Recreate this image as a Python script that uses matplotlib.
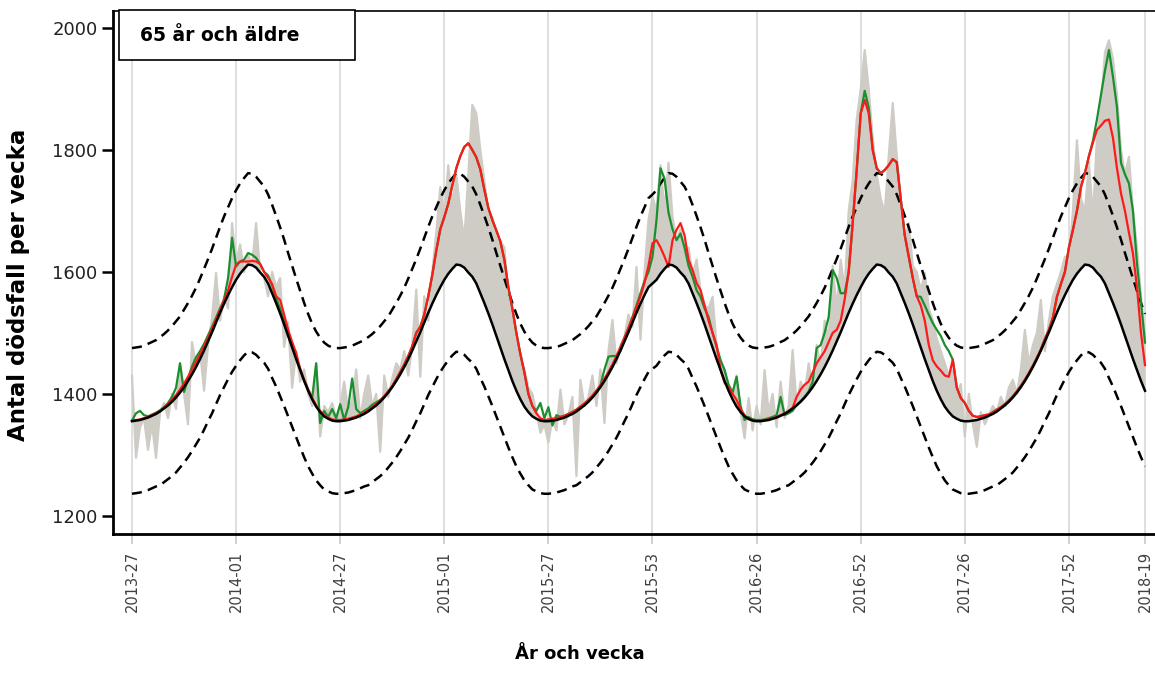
import matplotlib.pyplot as plt
from matplotlib.patches import Rectangle

# veckor: (år, första vecka, sista vecka)
periods = [(2013, 27, 52), (2014, 1, 52), (2015, 1, 53), (2016, 1, 52), (2017, 1, 52), (2018, 1, 19)]

# förväntat antal (svart) per veckonummer 1..53, samma varje år
base_by_week = [1587, 1597, 1605, 1612, 1611, 1607, 1599, 1592, 1581, 1565,
                1549, 1532, 1514, 1495, 1476, 1457, 1439, 1421, 1405, 1391,
                1379, 1370, 1363, 1359, 1356, 1355, 1355, 1356, 1357, 1359,
                1361, 1364, 1367, 1371, 1376, 1381, 1387, 1394, 1402, 1411,
                1421, 1432, 1444, 1457, 1471, 1486, 1501, 1517, 1533, 1548,
                1562, 1575, 1581]
upper_by_week = [1734, 1745, 1754, 1762, 1761, 1756, 1748, 1740, 1727, 1710,
                 1692, 1673, 1653, 1631, 1610, 1589, 1569, 1549, 1531, 1515,
                 1502, 1492, 1484, 1479, 1476, 1475, 1475, 1476, 1477, 1479,
                 1482, 1485, 1488, 1493, 1498, 1504, 1511, 1519, 1527, 1538,
                 1549, 1561, 1574, 1589, 1605, 1621, 1638, 1656, 1674, 1691,
                 1706, 1721, 1727]
lower_by_week = [1446, 1455, 1463, 1469, 1468, 1464, 1457, 1451, 1441, 1426,
                 1412, 1396, 1380, 1363, 1346, 1329, 1312, 1296, 1281, 1269,
                 1258, 1250, 1243, 1240, 1237, 1236, 1236, 1237, 1238, 1240,
                 1242, 1245, 1248, 1250, 1255, 1260, 1265, 1271, 1279, 1287,
                 1296, 1306, 1317, 1328, 1341, 1355, 1368, 1383, 1398, 1411,
                 1424, 1436, 1441]

# observerat antal (grått)
obs_2013 = [1430, 1295, 1345, 1360, 1308, 1350, 1295, 1370, 1385, 1360, 1400, 1375, 1450,
            1400, 1350, 1485, 1445, 1470, 1405, 1480, 1525, 1598, 1520, 1560, 1540, 1680]
obs_2014 = [1615, 1645, 1600, 1628, 1612, 1680, 1600, 1590, 1560, 1600, 1575, 1590, 1477,
            1517, 1410, 1470, 1420, 1440, 1400, 1380, 1450, 1330, 1380, 1370, 1385, 1360,
            1380, 1420, 1370, 1390, 1440, 1360, 1400, 1430, 1380, 1400, 1305, 1430, 1395,
            1425, 1450, 1440, 1470, 1430, 1480, 1571, 1428, 1560, 1520, 1600, 1665, 1739]
obs_2015 = [1690, 1775, 1710, 1760, 1700, 1652, 1760, 1874, 1860, 1800, 1750, 1700, 1690,
            1660, 1650, 1640, 1560, 1530, 1490, 1467, 1440, 1410, 1400, 1370, 1336, 1350,
            1320, 1360, 1340, 1407, 1350, 1365, 1395, 1265, 1423, 1380, 1395, 1430, 1380,
            1440, 1352, 1470, 1521, 1450, 1480, 1493, 1530, 1510, 1608, 1489, 1600, 1685, 1723]
obs_2016 = [1700, 1775, 1700, 1779, 1690, 1652, 1670, 1636, 1640, 1595, 1620, 1570, 1545,
            1540, 1559, 1480, 1455, 1440, 1410, 1400, 1430, 1370, 1327, 1393, 1340, 1380,
            1350, 1439, 1370, 1400, 1345, 1420, 1360, 1380, 1472, 1380, 1420, 1400, 1450,
            1410, 1480, 1445, 1520, 1490, 1610, 1540, 1620, 1570, 1700, 1750, 1850, 1900]
obs_2017 = [1964, 1900, 1820, 1760, 1720, 1697, 1790, 1877, 1790, 1720, 1650, 1680, 1610,
            1600, 1570, 1598, 1540, 1520, 1490, 1470, 1450, 1430, 1440, 1400, 1416, 1330,
            1400, 1350, 1313, 1370, 1350, 1365, 1380, 1370, 1395, 1380, 1410, 1423, 1400,
            1440, 1505, 1450, 1480, 1500, 1554, 1470, 1520, 1560, 1580, 1600, 1625, 1620]
obs_2018 = [1700, 1816, 1720, 1700, 1780, 1690, 1820, 1870, 1960, 1980, 1950, 1890, 1800,
            1760, 1789, 1700, 1640, 1560, 1489]

# grön linje
green_2013 = [1356, 1368, 1372, 1365, 1363, 1366, 1369, 1373, 1378, 1385, 1395, 1410, 1450,
              1403, 1425, 1445, 1460, 1470, 1482, 1496, 1510, 1525, 1540, 1555, 1590, 1656]
green_2014 = [1609, 1617, 1620, 1631, 1628, 1623, 1613, 1600, 1594, 1578, 1557, 1540, 1520,
              1497, 1478, 1459, 1441, 1423, 1407, 1393, 1450, 1352, 1372, 1362, 1375, 1360,
              1383, 1357, 1378, 1425, 1375, 1368, 1372, 1376, 1382, 1386, 1390, 1396, 1404,
              1412, 1424, 1436, 1448, 1462, 1478, 1500, 1510, 1530, 1560, 1595, 1635, 1670]
green_2015 = [1690, 1712, 1742, 1770, 1790, 1805, 1811, 1800, 1788, 1768, 1735, 1705, 1685,
              1668, 1650, 1620, 1575, 1540, 1500, 1465, 1435, 1400, 1380, 1372, 1385, 1360,
              1378, 1348, 1365, 1362, 1364, 1367, 1370, 1374, 1379, 1384, 1390, 1397, 1405,
              1414, 1440, 1461, 1462, 1462, 1470, 1492, 1508, 1526, 1545, 1565, 1585, 1600, 1625]
green_2016 = [1685, 1770, 1753, 1697, 1670, 1652, 1663, 1640, 1610, 1592, 1570, 1559, 1540,
              1526, 1500, 1477, 1455, 1439, 1415, 1402, 1428, 1380, 1357, 1362, 1358, 1357,
              1357, 1358, 1360, 1362, 1365, 1395, 1365, 1368, 1372, 1382, 1388, 1395, 1404,
              1420, 1475, 1480, 1500, 1526, 1603, 1590, 1565, 1565, 1600, 1680, 1767, 1860]
green_2017 = [1897, 1870, 1800, 1770, 1762, 1767, 1775, 1785, 1780, 1720, 1660, 1625, 1590,
              1560, 1559, 1545, 1530, 1516, 1505, 1495, 1480, 1470, 1456, 1410, 1393, 1385,
              1372, 1364, 1362, 1363, 1365, 1366, 1370, 1374, 1378, 1383, 1389, 1396, 1404,
              1413, 1423, 1434, 1446, 1459, 1473, 1490, 1505, 1525, 1559, 1580, 1600, 1640]
green_2018 = [1669, 1700, 1739, 1762, 1790, 1815, 1850, 1890, 1930, 1964, 1920, 1870, 1779,
              1760, 1745, 1700, 1614, 1550, 1484]

# röd linje
red_2013 = [1356, 1357, 1358, 1360, 1362, 1365, 1368, 1372, 1377, 1383, 1390, 1398, 1407,
            1417, 1428, 1440, 1452, 1465, 1478, 1492, 1507, 1522, 1538, 1553, 1570, 1592]
red_2014 = [1612, 1617, 1617, 1617, 1618, 1617, 1613, 1600, 1590, 1580, 1560, 1554, 1530,
            1505, 1485, 1467, 1441, 1423, 1407, 1393, 1381, 1372, 1365, 1361, 1358, 1357,
            1357, 1358, 1359, 1361, 1363, 1366, 1369, 1373, 1378, 1383, 1389, 1396, 1404,
            1413, 1424, 1436, 1448, 1462, 1478, 1500, 1510, 1530, 1560, 1595, 1635, 1670]
red_2015 = [1690, 1712, 1742, 1770, 1790, 1805, 1811, 1800, 1788, 1768, 1735, 1705, 1685,
            1668, 1650, 1620, 1575, 1540, 1500, 1465, 1435, 1400, 1380, 1368, 1360, 1357,
            1358, 1359, 1360, 1362, 1364, 1367, 1370, 1374, 1379, 1384, 1390, 1397, 1405,
            1414, 1425, 1436, 1448, 1462, 1477, 1492, 1508, 1525, 1542, 1560, 1582, 1610, 1647]
red_2016 = [1652, 1640, 1625, 1608, 1652, 1669, 1680, 1660, 1620, 1603, 1582, 1570, 1545,
            1520, 1500, 1480, 1440, 1418, 1411, 1400, 1390, 1375, 1365, 1358, 1357, 1356,
            1356, 1357, 1358, 1360, 1362, 1365, 1368, 1372, 1377, 1395, 1407, 1415, 1420,
            1435, 1450, 1460, 1470, 1485, 1500, 1505, 1520, 1555, 1600, 1680, 1767, 1860]
red_2017 = [1882, 1860, 1800, 1770, 1762, 1767, 1775, 1785, 1780, 1720, 1660, 1625, 1590,
            1560, 1545, 1520, 1480, 1455, 1445, 1438, 1430, 1428, 1456, 1410, 1393, 1385,
            1372, 1364, 1362, 1363, 1365, 1366, 1370, 1374, 1378, 1383, 1389, 1396, 1404,
            1413, 1423, 1434, 1446, 1459, 1473, 1490, 1505, 1525, 1559, 1580, 1600, 1640]
red_2018 = [1669, 1700, 1739, 1762, 1790, 1812, 1833, 1840, 1848, 1850, 1820, 1770, 1729,
            1700, 1664, 1630, 1575, 1500, 1447]

tick_labels = ['2013-27', '2014-01', '2014-27', '2015-01', '2015-27', '2015-53',
               '2016-26', '2016-52', '2017-26', '2017-52', '2018-19']

# bygg veckoaxeln
labels, week_no = [], []
for year, w0, w1 in periods:
    for w in range(w0, w1 + 1):
        labels.append(f'{year}-{w:02d}')
        week_no.append(w)
x = list(range(len(labels)))
base = [base_by_week[w - 1] for w in week_no]
upper = [upper_by_week[w - 1] for w in week_no]
lower = [lower_by_week[w - 1] for w in week_no]
obs = obs_2013 + obs_2014 + obs_2015 + obs_2016 + obs_2017 + obs_2018
green = green_2013 + green_2014 + green_2015 + green_2016 + green_2017 + green_2018
red = red_2013 + red_2014 + red_2015 + red_2016 + red_2017 + red_2018
ticks = [labels.index(t) for t in tick_labels]

fig = plt.figure(figsize=(11.55, 6.75), dpi=100)
ax = fig.add_axes([0.0978, 0.2089, 0.9022, 0.7748])

grey = '#cfccc6'
ax.fill_between(x, base, obs, color=grey, lw=0, zorder=1)
ax.plot(x, obs, color=grey, lw=1.6, zorder=1)
ax.plot(x, upper, color='black', lw=1.8, ls=(0, (4, 2.5)), zorder=3)
ax.plot(x, lower, color='black', lw=1.8, ls=(0, (4, 2.5)), zorder=3)
ax.plot(x, green, color='#1a8f2e', lw=1.6, zorder=4)
ax.plot(x, red, color='#ff1a1a', lw=1.6, zorder=5)
ax.plot(x, base, color='black', lw=1.8, zorder=6)

ax.set_xlim(-4.75, 255.5)
ax.set_ylim(1170, 2028)
ax.set_yticks([1200, 1400, 1600, 1800, 2000])
ax.set_xticks(ticks)
ax.set_xticklabels(tick_labels, rotation=90, fontsize=10.5, color='#404040')
ax.grid(axis='x', color='#dcdcdc', lw=1.3, zorder=0)
ax.set_axisbelow(True)
ax.tick_params(axis='x', length=7, width=1.2, color='#c8c8c8', pad=5)
ax.tick_params(axis='y', length=8, width=1.8, color='black', labelsize=13,
               labelcolor='#222222', pad=3)

for side in ['left', 'bottom']:
    ax.spines[side].set_linewidth(2.0)
ax.spines['top'].set_linewidth(1.2)
ax.spines['right'].set_visible(False)

fig.text(0.016, 0.578, 'Antal dödsfall per vecka', rotation=90, ha='center', va='center',
         fontsize=16.5, fontweight='bold')
fig.text(0.502, 0.018, 'År och vecka', ha='center', va='bottom', fontsize=13, fontweight='bold')

fig.patches.append(Rectangle((0.103, 0.9111), 0.2043, 0.074, transform=fig.transFigure,
                             facecolor='white', edgecolor='black', lw=1.2, zorder=10))
fig.text(0.1212, 0.948, '65 år och äldre', ha='left', va='center', fontsize=13.5,
         fontweight='bold', zorder=11)

plt.savefig('out.png', dpi=100)
